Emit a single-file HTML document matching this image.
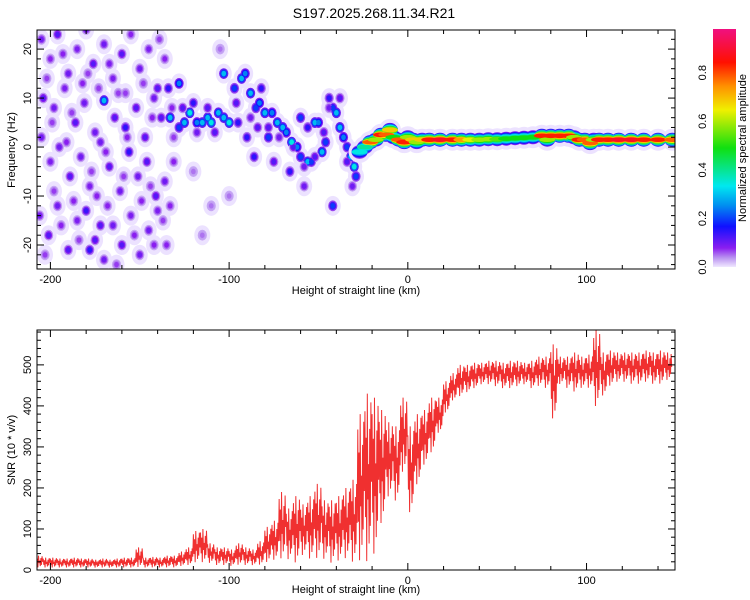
<!DOCTYPE html>
<html><head><meta charset="utf-8"><style>
html,body{margin:0;padding:0;background:#fff;}
svg{display:block;font-family:"Liberation Sans",sans-serif;}
</style></head><body>
<svg id="fig" width="750" height="600" viewBox="0 0 750 600" xmlns="http://www.w3.org/2000/svg">
<defs>
<clipPath id="clipTop"><rect x="37" y="30" width="638" height="239"/></clipPath>
<clipPath id="clipBot"><rect x="37" y="330" width="638" height="240"/></clipPath>
<linearGradient id="cbar" x1="0" y1="1" x2="0" y2="0">
<stop offset="0" stop-color="#f0e8ff"/><stop offset="0.04" stop-color="#b890f0"/><stop offset="0.08" stop-color="#8a1ef0"/>
<stop offset="0.17" stop-color="#1010ff"/><stop offset="0.26" stop-color="#0090f0"/><stop offset="0.34" stop-color="#00e8f0"/>
<stop offset="0.5" stop-color="#10e010"/><stop offset="0.66" stop-color="#f0f000"/><stop offset="0.76" stop-color="#ff9000"/>
<stop offset="0.86" stop-color="#ff1000"/><stop offset="1" stop-color="#f01080"/>
</linearGradient>
</defs>
<text x="374" y="18" text-anchor="middle" font-size="14">S197.2025.268.11.34.R21</text>
<g id="spec" clip-path="url(#clipTop)"></g>
<rect x="37" y="30" width="638" height="239" fill="none" stroke="#000" stroke-width="1"/>
<g id="topAxes"></g>
<text x="356" y="294" text-anchor="middle" font-size="11">Height of straight line (km)</text>
<text transform="translate(15,150) rotate(-90)" text-anchor="middle" font-size="11">Frequency (Hz)</text>
<rect x="713" y="29" width="23" height="238" fill="url(#cbar)"/>
<g id="cbarTicks"></g>
<text transform="translate(746,148) rotate(-90)" text-anchor="middle" font-size="11">Normalized spectral amplitude</text>
<g id="snr" clip-path="url(#clipBot)"></g>
<rect x="37" y="330" width="638" height="240" fill="none" stroke="#000" stroke-width="1"/>
<g id="botAxes"></g>
<text x="356" y="593" text-anchor="middle" font-size="11">Height of straight line (km)</text>
<text transform="translate(15,450) rotate(-90)" text-anchor="middle" font-size="11">SNR (10 * v/v)</text>
</svg>
<script>
// ---- data ----
const ridgeKm   = [-27,-24,-21,-18,-15,-12,-10,-8,-5,-2,0,3,5,8,12,18,25,30,35,40,45,50,55,60,65,70,75,78,80,85,90,93,96,99,102,104,107,112,118,125,132,140,148];
const ridgeFreq = [-1,0,1,1.5,2.5,2.5,3.5,2,1.5,1,2,1.5,1,1.5,1.5,1.5,1.5,1.5,1.5,1.5,1.6,1.6,1.7,1.8,1.9,2,2.3,1.5,2.3,2.3,2.3,2,1.5,1.5,0.8,1.5,1.5,1.5,1.5,1.5,1.5,1.5,1.5];
const ridgeAmp  = [0.35,0.4,0.8,0.6,0.85,0.8,0.7,0.5,0.8,0.85,0.6,0.7,0.6,0.7,0.85,0.9,0.85,0.75,0.65,0.6,0.6,0.55,0.5,0.5,0.5,0.5,0.85,0.6,0.85,0.85,0.85,0.6,0.85,0.8,0.8,0.6,0.85,0.85,0.9,0.9,0.85,0.85,0.8];
const blobKm = [-205,-200,-196,-190,-185,-180,-176,-170,-165,-160,-155,-150,-145,-140,-136,
 -204,-198,-192,-186,-181,-175,-170,-164,-158,-152,-147,-142,-138,-134,-128,
 -205,-200,-195,-189,-183,-178,-172,-167,-161,-156,-151,-146,-141,-136,
 -206,-201,-196,-190,-185,-180,-175,-170,-165,-160,-155,-150,-145,-140,-135,-178,-172,
 -202,-193,-188,-182,-173,-167,-162,-157,-148,-143,-139,-132,-198,-187,-177,-168,-159,-149,-137,-131,-203,-194,-184,-174,-163,-153,-144,-133,-199,-191,-179,-169,-158,-142,-131,
 -133,-128,-125,-122,-118,-115,-112,-110,-106,-103,-100,-103,-97,-93,-91,-88,-85,-83,-80,-78,-76,-73,-70,-68,-65,-62,-60,-56,-54,-52,-50,-48,-46,-44,-42,-40,-38,-36,-34,-32,-30,-29,-42,-90,-95,-108,-120,-86,-75,-66,-58,-82,-60,-56,-100,-120,-115,-105,-110,
 -126,-118,-112,-96,-88,-84,-78,-72,-64,-58,-52,-47,-44,-38,-34,-31];
const blobFreq = [22,18,23,15,20,24,17,21,14,19,23,16,20,12,18,
 10,8,12,5,9,3,9.5,6,4,8,2,10,6,12,13,
 2,-3,0,-6,-2,-8,1,-4,-9,-1,-6,-3,-10,-7,
 -14,-18,-12,-21,-15,-13,-19,-23,-16,-20,-14,-22,-17,-13,-20,-21,-16,
 14,19,7,13,12,17,11,2,13,6,22,8,-9,-11,-5,-12,-6,-11,-15,-3,-22,-16,-19,-10,-24,-18,-8,-12,5,1,15,-1,11,-20,2,
 6,4,5,7,5,5,6,5,7,6,5,15,12,14,15,11,8,9,7,2,7,5,4,3,1,0,-2,-3,-3,5,5,-1,1,10,8,7,4,2,0,-2,-4,-6,-12,2,5,3,9,-2,-3,-5,-8,12,6,4,-10,-5,-18,20,-12,
 8,3,8,9,6,4,4,2,0,-4,-2,3,8,10,-3,-8];
const blobAmp = [.1,.08,.12,.1,.09,.1,.12,.1,.09,.12,.08,.1,.09,.12,.08,
 .12,.1,.09,.12,.1,.1,.3,.12,.15,.12,.12,.1,.12,.15,.25,
 .1,.09,.1,.12,.1,.09,.1,.12,.1,.15,.1,.12,.12,.1,
 .1,.12,.1,.12,.09,.14,.12,.1,.1,.12,.09,.1,.1,.09,.08,.15,.12,
 .07,.08,.07,.08,.07,.09,.07,.08,.07,.08,.07,.08,.07,.08,.07,.08,.07,.08,.07,.08,.07,.08,.07,.08,.07,.08,.07,.08,.07,.08,.07,.08,.07,.08,.07,
 .3,.2,.3,.35,.25,.3,.3,.35,.3,.3,.35,.3,.2,.3,.25,.3,.2,.25,.3,.2,.25,.3,.3,.25,.35,.25,.2,.3,.2,.3,.25,.3,.2,.15,.2,.3,.3,.25,.2,.3,.35,.2,.2,.15,.15,.12,.15,.15,.12,.15,.1,.15,.2,.15,.05,.05,.05,.05,.05,
 .12,.1,.12,.12,.1,.12,.12,.1,.12,.1,.12,.12,.1,.12,.12,.1];
const snrKm = [-206,-202,-198,-194,-190,-186,-182,-178,-174,-170,-166,-162,-158,-154,-150,-146,-142,-138,-134,-130,-126,-122,-118,-114,-110,-106,-102,-98,-94,-90,-86,-82,-78,-74,-70,-66,-62,-58,-54,-50,-46,-42,-38,-34,-30,-26,-22,-18,-14,-10,-6,-2,2,6,10,14,18,22,26,30,34,38,42,46,50,54,58,62,66,70,74,78,82,86,90,94,98,102,106,110,114,118,122,126,130,134,138,142,146];
const snrLo = [5,5,5,5,5,5,5,5,5,5,5,5,5,5,5,5,5,5,5,5,8,10,15,15,15,10,10,8,10,10,10,10,15,20,20,20,10,30,20,20,20,10,15,20,10,5,0,20,100,170,160,230,130,200,250,280,330,380,410,420,430,440,450,450,445,440,440,445,450,440,445,440,360,450,440,430,440,440,390,420,445,455,455,450,450,455,450,450,460];
const snrHi = [35,30,30,28,28,30,28,28,25,28,25,28,30,30,55,30,32,30,35,35,45,55,95,100,65,55,55,50,65,55,50,70,105,120,190,150,180,160,180,210,170,170,180,200,220,380,430,420,390,360,350,420,350,380,390,420,420,460,480,500,500,505,505,510,510,505,510,510,505,510,520,520,550,520,520,530,520,525,585,530,535,530,530,530,530,535,530,535,530];
const xTicksMajor = [-200,-100,0,100];
const topYTicks = [-20,-10,0,10,20];
const botYTicks = [0,100,200,300,400,500];
const cbTicks = [0.0,0.2,0.4,0.6,0.8];

// ---- scales ----
const X0=37,X1=675,KMIN=-207.5,KMAX=149.5;
const xs = k => X0+(k-KMIN)/(KMAX-KMIN)*(X1-X0);
const TY0=30,TY1=269,FMIN=-24.9,FMAX=23.9;
const yf = f => TY1-(f-FMIN)/(FMAX-FMIN)*(TY1-TY0);
const BY0=330,BY1=570,SMAX=585;
const ys = v => BY1-v/SMAX*(BY1-BY0);
const CB0=267,CB1=29,CBMAX=0.98;
const yc = v => CB0-v/CBMAX*(CB0-CB1);

const NS="http://www.w3.org/2000/svg";
function mk(tag,attrs,parent){const e=document.createElementNS(NS,tag);for(const k in attrs)e.setAttribute(k,attrs[k]);parent.appendChild(e);return e;}
const stops=[[0,[240,232,255]],[0.04,[184,144,240]],[0.08,[138,30,240]],[0.17,[16,16,255]],[0.26,[0,144,240]],[0.34,[0,232,240]],[0.5,[16,224,16]],[0.66,[240,240,0]],[0.76,[255,144,0]],[0.86,[255,16,0]],[1,[240,16,128]]];
function cmap(v){v=Math.max(0,Math.min(1,v));for(let i=1;i<stops.length;i++){if(v<=stops[i][0]){const a=stops[i-1],b=stops[i],t=(v-a[0])/(b[0]-a[0]);const c=a[1].map((x,j)=>Math.round(x+(b[1][j]-x)*t));return `rgb(${c[0]},${c[1]},${c[2]})`;}}return 'rgb(240,16,128)';}

// ---- spectrogram ----
const spec=document.getElementById('spec');
for(let i=0;i<blobKm.length;i++){
  const e=mk('ellipse',{cx:xs(blobKm[i]),cy:yf(blobFreq[i]),rx:8,ry:10,fill:'rgb(236,226,255)'},spec);
  
  
}
const NB=3;
for(let L=1;L<=NB;L++){
  for(let i=0;i<blobKm.length;i++){
    const a=blobAmp[i], lv=a*L/NB;
    const f=1-(L-1)/NB;
    const rx=3.4*f+1.2, ry=4.0*f+1.4;
    const e=mk('ellipse',{cx:xs(blobKm[i]),cy:yf(blobFreq[i]),rx:rx,ry:ry,fill:cmap(Math.max(lv,0.03))},spec);
    
    
  }
}
const NL=6;
for(let L=0;L<=NL;L++){
  for(let i=0;i<ridgeKm.length;i++){
    const a=ridgeAmp[i], lv=a*L/NL;
    const ry = L===0 ? 11 : 1.4+5.6*(1-(L-1)/NL);
    const rx = L===0 ? 11 : 8;
    const col=L===0?'rgb(236,226,255)':cmap(Math.max(lv,0.06));
    const e=mk('ellipse',{cx:xs(ridgeKm[i]),cy:yf(ridgeFreq[i]),rx:rx,ry:ry,fill:col},spec);
    
    
  }
}

// ---- axes ----
function axes(g,yTop,yBot,yTicks,yScale,minorStep,minorMin,minorMax,yLabelX){
  for(let k=-200;k<=140;k+=20){
    const x=xs(k), len=xTicksMajor.includes(k)?7:4;
    mk('line',{x1:x,y1:yBot,x2:x,y2:yBot-len,stroke:'#000'},g);
    mk('line',{x1:x,y1:yTop,x2:x,y2:yTop+len,stroke:'#000'},g);
  }
  xTicksMajor.forEach(k=>{
    const t=mk('text',{x:xs(k),y:yBot+14,'text-anchor':'middle','font-size':11},g);
    t.textContent=k;
    
    
  });
  for(let v=minorMin;v<=minorMax;v+=minorStep){
    const y=yScale(v);if(y<yTop||y>yBot)continue;
    const len=yTicks.includes(v)?7:4;
    mk('line',{x1:X0,y1:y,x2:X0+len,y2:y,stroke:'#000'},g);
    mk('line',{x1:X1,y1:y,x2:X1-len,y2:y,stroke:'#000'},g);
  }
  yTicks.forEach(v=>{
    const t=mk('text',{transform:`translate(${yLabelX},${yScale(v)}) rotate(-90)`,'text-anchor':'middle','font-size':11},g);
    t.textContent=v;
    
    
  });
}
axes(document.getElementById('topAxes'),TY0,TY1,topYTicks,yf,2,-24,24,31);
axes(document.getElementById('botAxes'),BY0,BY1,botYTicks,ys,20,0,580,31);

const cbg=document.getElementById('cbarTicks');
cbTicks.forEach(v=>{
  const t=mk('text',{transform:`translate(706,${yc(v)}) rotate(-90)`,'text-anchor':'middle','font-size':11},cbg);
  t.textContent=v.toFixed(1);
  
  
});

// ---- SNR line ----
const pat=[0.9,0.3,0.75,0.05,1,0.4,0.6,0.15,0.8,0.25,0.95,0.5];
let pts=[];
for(let i=0;i<snrKm.length;i++){
  for(let j=0;j<pat.length;j++){
    const k=snrKm[i]-2+4*j/pat.length;
    const v=snrLo[i]+(snrHi[i]-snrLo[i])*pat[j];
    pts.push(xs(k).toFixed(2)+','+ys(v).toFixed(2));
  }
}
const line=mk('polyline',{points:pts.join(' '),fill:'none',stroke:'#f03030','stroke-width':1},document.getElementById('snr'));


</script>
</body></html>
